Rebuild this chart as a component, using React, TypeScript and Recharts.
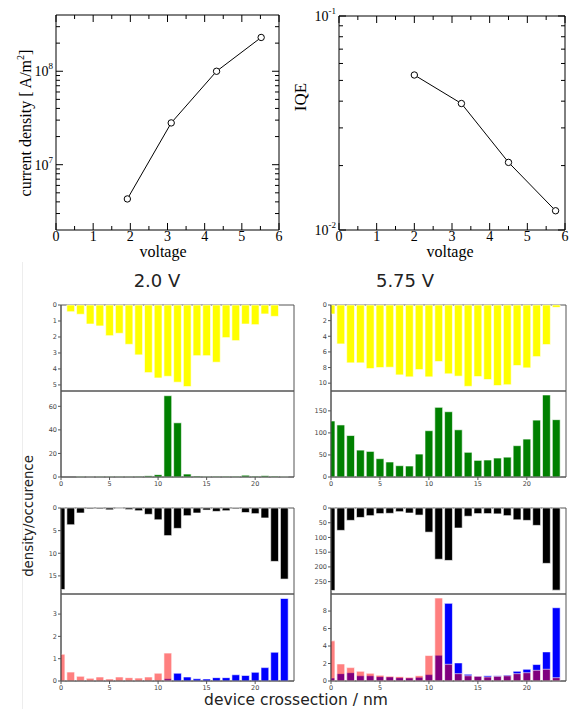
import React from "react";
import { BarChart, Bar, LineChart, Line, XAxis, YAxis, ReferenceArea } from "recharts";

// top plots
const voltsJ = [1.92, 3.1, 4.32, 5.52];
const currentDensity = [4.3e6, 2.8e7, 1.0e8, 2.3e8];
const voltsIqe = [2.0, 3.25, 4.5, 5.75];
const iqe = [0.053, 0.039, 0.0207, 0.0123];

const voltTicks = [0, 0.5, 1, 1.5, 2, 2.5, 3, 3.5, 4, 4.5, 5, 5.5, 6];
const jTicks = [3e6, 4e6, 5e6, 6e6, 7e6, 8e6, 9e6, 1e7, 2e7, 3e7, 4e7, 5e7, 6e7, 7e7, 8e7, 9e7, 1e8, 2e8, 3e8];
const jMajors = [1e7, 1e8];
const iqeTicks = [0.01, 0.02, 0.03, 0.04, 0.05, 0.06, 0.07, 0.08, 0.09, 0.1];
const iqeMajors = [0.01, 0.1];

// device crossection, 1 nm slices
const positions = [0, 1, 2, 3, 4, 5, 6, 7, 8, 9, 10, 11, 12, 13, 14, 15, 16, 17, 18, 19, 20, 21, 22, 23];
const posTicks = [0, 5, 10, 15, 20];

// 2.0 V
const yellowLow = [0, 0.42, 0.58, 1.19, 1.31, 1.92, 1.77, 2.46, 3.12, 4.23, 4.56, 4.46, 4.83, 5.1, 3.17, 3.17, 3.58, 2.04, 2.23, 1.19, 1.23, 0.56, 0.71, 0];
const greenLow = [0, 0, 0.5, 0.2, 0.5, 0.5, 0.5, 0.5, 0.6, 1, 2, 69, 46, 2.5, 0.8, 0.5, 0.6, 0.6, 0.6, 1.5, 0.7, 1.1, 0.7, 0.4];
const blackLow = [18, 3.7, 1.1, 0.2, 0.2, 0.4, 0.1, 0.35, 0.6, 1.4, 2.6, 6.1, 4.5, 1.7, 1.1, 0.45, 0.75, 0.6, 0.2, 1.0, 1.25, 2.2, 11.8, 15.7];
const redLow = [1.2, 0.4, 0.21, 0.12, 0.18, 0.09, 0.18, 0.15, 0.13, 0.18, 0.35, 1.25, 0, 0, 0, 0, 0, 0, 0, 0, 0, 0, 0, 0];
const blueLow = [0, 0, 0, 0, 0, 0, 0, 0, 0, 0, 0, 0.1, 0.35, 0.18, 0.1, 0.09, 0.15, 0.15, 0.28, 0.25, 0.39, 0.6, 1.29, 3.7];

// 5.75 V
const yellowHigh = [1.15, 4.98, 7.4, 7.4, 8.13, 8.0, 7.96, 8.94, 9.19, 8.26, 9.19, 7.23, 8.8, 9.1, 10.4, 9.15, 9.53, 10.3, 10.2, 7.74, 8.04, 6.6, 5.06, 0.3];
const greenHigh = [127, 118, 94, 61, 58, 41.5, 34, 25.6, 24.9, 52, 105, 158, 148, 107, 56, 37.7, 38.5, 43, 45, 71, 86, 129, 186, 130];
const blackHigh = [280, 76, 42, 32, 26, 19, 18, 12.5, 17, 24, 82, 174, 178, 68, 28, 19, 19, 20, 26, 40, 42, 59, 188, 279];
const redHigh = [4.59, 1.95, 1.53, 1.11, 0.88, 0.65, 0.54, 0.5, 0.42, 0.61, 2.91, 9.49, 1.91, 0.84, 0.6, 0.53, 0.46, 0.53, 0.6, 0.84, 0.95, 1.22, 1.34, 0.38];
const blueHigh = [0.34, 0.84, 0.95, 0.6, 0.6, 0.5, 0.46, 0.38, 0.34, 0.42, 0.73, 2.95, 8.88, 2.07, 0.77, 0.57, 0.61, 0.61, 0.69, 1.11, 1.34, 1.88, 3.33, 8.38];

const SERIF = '"Liberation Serif", "Times New Roman", serif';
const SANS = '"DejaVu Sans", sans-serif';
const Y_W = 30;
const PAD = 5;

function logYTick(plotW: number, majors: number[]) {
  return (p: any) => {
    const { x, y } = p;
    const v = p.payload.value;
    const major = majors.some((m) => Math.abs(m - v) / m < 1e-6);
    const len = major ? 7 : 4;
    const exp = Math.round(Math.log10(v));
    return (
      <g>
        <line x1={x} x2={x + len} y1={y} y2={y} stroke="#000" />
        <line x1={x + plotW} x2={x + plotW - len} y1={y} y2={y} stroke="#000" />
        {major && (
          <text x={x - 3} y={y + 5} textAnchor="end" fontFamily={SERIF} fontSize={14} fill="#000">
            10<tspan dy={-7} fontSize={9}>{String(exp)}</tspan>
          </text>
        )}
      </g>
    );
  };
}

function voltTick(plotH: number) {
  return (p: any) => {
    const { x, y } = p;
    const v = p.payload.value;
    const major = Number.isInteger(v);
    const len = major ? 7 : 4;
    return (
      <g>
        <line x1={x} x2={x} y1={y} y2={y - len} stroke="#000" />
        <line x1={x} x2={x} y1={y - plotH} y2={y - plotH + len} stroke="#000" />
        {major && (
          <text x={x} y={y + 11} textAnchor="middle" fontFamily={SERIF} fontSize={14} fill="#000">
            {v}
          </text>
        )}
      </g>
    );
  };
}

function LogPlot({ left, width, yw, mr, mt, xs, ys, domain, ticks, majors }: any) {
  const plotW = width - yw - mr;
  const plotH = 230 - mt;
  const data = xs.map((x: number, i: number) => ({ x, y: ys[i] }));
  return (
    <div style={{ position: "absolute", left, top: 0 }}>
      <LineChart width={width} height={245} data={data} margin={{ top: mt, right: mr, bottom: 0, left: 0 }}>
        <XAxis type="number" dataKey="x" domain={[0, 6]} ticks={voltTicks} interval={0} height={15}
          axisLine={false} tickLine={false} tickSize={0} tickMargin={0} tick={voltTick(plotH)} />
        <YAxis type="number" scale="log" domain={domain} allowDataOverflow ticks={ticks} interval={0} width={yw}
          axisLine={false} tickLine={false} tickSize={0} tickMargin={0} tick={logYTick(plotW, majors)} />
        <ReferenceArea x1={0} x2={6} y1={domain[0]} y2={domain[1]} fill="none" stroke="#000" strokeWidth={1} />
        <Line dataKey="y" stroke="#000" strokeWidth={1} isAnimationActive={false}
          dot={{ r: 3.2, stroke: "#000", strokeWidth: 1, fill: "#fff" }} />
      </LineChart>
    </div>
  );
}

function Panel({ left, top, plotW, plotH, series, yMax, yTicks, reversed, showX }: any) {
  const xh = showX ? 18 : 0;
  const barSize = (0.8 * plotW) / 24;
  const data = positions.map((x, i) => {
    const row: any = { x };
    series.forEach((s: any, k: number) => (row["s" + k] = s.values[i]));
    return row;
  });
  const tickStyle = { fontSize: 6.5, fill: "#444", fontFamily: SANS };
  return (
    <div style={{ position: "absolute", left: left - Y_W, top: top - PAD }}>
      <BarChart width={plotW + Y_W + 1} height={plotH + xh + 2 * PAD} data={data}
        margin={{ top: PAD, right: 1, bottom: PAD, left: 0 }}>
        <XAxis xAxisId="a" type="number" dataKey="x" domain={[0, 24]} allowDataOverflow ticks={posTicks} interval={0}
          hide={!showX} height={xh} tickSize={3} tickMargin={1} tick={tickStyle} stroke="#555" />
        <XAxis xAxisId="b" type="number" dataKey="x" domain={[0, 24]} allowDataOverflow hide />
        <YAxis type="number" domain={[0, yMax]} ticks={yTicks} interval={0} reversed={reversed} width={Y_W}
          tickSize={3} tickMargin={1} tick={tickStyle} stroke="#555" />
        {series.map((s: any, k: number) => (
          <Bar key={k} xAxisId={k === 0 ? "a" : "b"} dataKey={"s" + k} fill={s.fill} fillOpacity={s.opacity ?? 1}
            stroke="#fff" strokeWidth={0.6} barSize={barSize} isAnimationActive={false} />
        ))}
        <ReferenceArea xAxisId="a" x1={0} x2={24} y1={0} y2={yMax} fill="none" stroke="#555" strokeWidth={1} />
      </BarChart>
    </div>
  );
}

const LEFT_X = 61;
const LEFT_W = 233;
const RIGHT_X = 331;
const RIGHT_W = 235;

export default function App() {
  return (
    <div style={{ position: "absolute", left: 0, top: 0, width: 569, height: 709, background: "#fff", overflow: "hidden" }}>
      <svg width={569} height={709} style={{ position: "absolute", left: 0, top: 0 }}>
        <line x1={22.5} x2={22.5} y1={262} y2={709} stroke="#ededed" />
        <text x={163} y={257} textAnchor="middle" fontFamily={SERIF} fontSize={16}>voltage</text>
        <text x={450} y={257} textAnchor="middle" fontFamily={SERIF} fontSize={16}>voltage</text>
        <text transform="translate(31,123) rotate(-90)" textAnchor="middle" fontFamily={SERIF} fontSize={16}>
          current density [ A/m<tspan dy={-7} fontSize={10}>2</tspan><tspan dy={7}>]</tspan>
        </text>
        <text transform="translate(306,97) rotate(-90)" textAnchor="middle" fontFamily={SERIF} fontSize={17}>IQE</text>
        <text x={157} y={287} textAnchor="middle" fontFamily={SANS} fontSize={18} fill="#222">2.0 V</text>
        <text x={405} y={287} textAnchor="middle" fontFamily={SANS} fontSize={18} fill="#222">5.75 V</text>
        <text transform="translate(33,516) rotate(-90)" textAnchor="middle" fontFamily={SANS} fontSize={13.3} fill="#222">
          density/occurence
        </text>
        <text x={296} y={705} textAnchor="middle" fontFamily={SANS} fontSize={15.5} fill="#222">device crossection / nm</text>
      </svg>

      <LogPlot left={0} width={290} yw={56} mr={11} mt={15} xs={voltsJ} ys={currentDensity}
        domain={[2e6, 4e8]} ticks={jTicks} majors={jMajors} />
      <LogPlot left={285} width={284} yw={54} mr={4} mt={16} xs={voltsIqe} ys={iqe}
        domain={[0.01, 0.1]} ticks={iqeTicks} majors={iqeMajors} />

      <Panel left={LEFT_X} top={305} plotW={LEFT_W} plotH={86} yMax={5.38} yTicks={[0, 1, 2, 3, 4, 5]} reversed
        series={[{ values: yellowLow, fill: "#ffff00" }]} />
      <Panel left={LEFT_X} top={391} plotW={LEFT_W} plotH={86} yMax={73} yTicks={[0, 20, 40, 60]} showX
        series={[{ values: greenLow, fill: "#008000" }]} />
      <Panel left={LEFT_X} top={508} plotW={LEFT_W} plotH={86} yMax={19} yTicks={[0, 5, 10, 15]} reversed
        series={[{ values: blackLow, fill: "#000000" }]} />
      <Panel left={LEFT_X} top={594} plotW={LEFT_W} plotH={87} yMax={3.9} yTicks={[0, 1, 2, 3]} showX
        series={[{ values: blueLow, fill: "#0000ff" }, { values: redLow, fill: "#ff0000", opacity: 0.5 }]} />

      <Panel left={RIGHT_X} top={305} plotW={RIGHT_W} plotH={86} yMax={11} yTicks={[0, 2, 4, 6, 8, 10]} reversed
        series={[{ values: yellowHigh, fill: "#ffff00" }]} />
      <Panel left={RIGHT_X} top={391} plotW={RIGHT_W} plotH={86} yMax={195} yTicks={[0, 50, 100, 150]} showX
        series={[{ values: greenHigh, fill: "#008000" }]} />
      <Panel left={RIGHT_X} top={508} plotW={RIGHT_W} plotH={86} yMax={292} yTicks={[0, 50, 100, 150, 200, 250]} reversed
        series={[{ values: blackHigh, fill: "#000000" }]} />
      <Panel left={RIGHT_X} top={594} plotW={RIGHT_W} plotH={87} yMax={9.95} yTicks={[0, 2, 4, 6, 8]} showX
        series={[{ values: blueHigh, fill: "#0000ff" }, { values: redHigh, fill: "#ff0000", opacity: 0.5 }]} />
    </div>
  );
}
